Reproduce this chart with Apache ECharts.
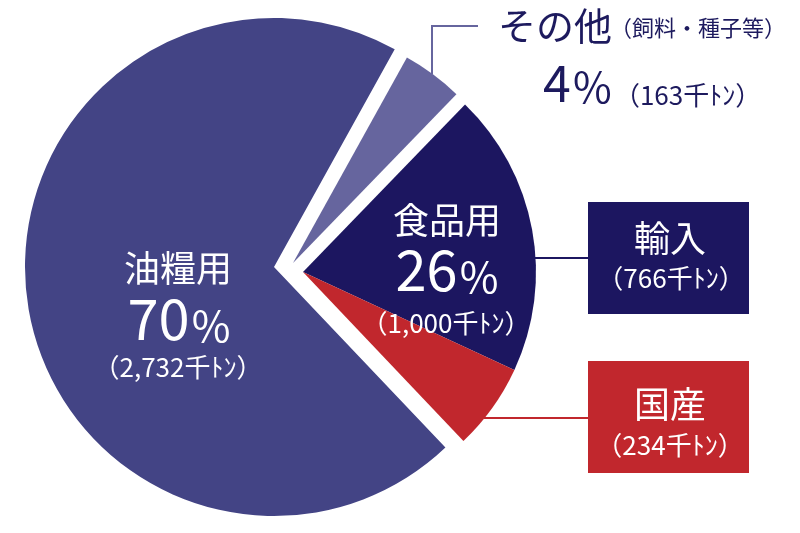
<!DOCTYPE html>
<html><head><meta charset="utf-8">
<script src="https://cdn.jsdelivr.net/npm/echarts@6/dist/echarts.min.js"></script>
<style>html,body{margin:0;padding:0;background:#fff}#c{width:800px;height:533px}</style>
</head><body><div id="c"></div>
<script>
// ---- data ----
const names = ['その他', '輸入', '国産', '油糧用'];
const values = [163, 766, 234, 2732];   // 千トン
const groupNames = ['油糧用', '食品用', 'その他'];
const groupValues = [2732, 1000, 163];
const groupPct = [70, 26, 4];
const otherNote = '（飼料・種子等）';
const unit = '千ﾄﾝ';
const colors = ['#66659e', '#1c1660', '#c1272d', '#434485'];

const fmt = v => v.toLocaleString('en-US');
const CJK = "'Noto Sans CJK JP'";
const NUM = "'Liberation Sans Narrow','Noto Sans CJK JP'";

function makeSeries(center, radius, showIdx) {
  return {
    type: 'pie', center: center, radius: radius, startAngle: 61, clockwise: true,
    animation: false, silent: true, label: {show: false}, labelLine: {show: false},
    emphasis: {disabled: true},
    data: names.map((n, i) => ({
      name: n, value: values[i],
      itemStyle: {color: showIdx.includes(i) ? colors[i] : 'rgba(0,0,0,0)'}
    }))
  };
}

function txt(x, y, text, font, fill, align) {
  return {type: 'text', x: x, y: y, z: 10, silent: true,
    style: {text: text, font: font, fill: fill, align: align || 'center', verticalAlign: 'middle'}};
}
function pctText(x, y, num, numSize, pSize, fill) {
  return {type: 'text', x: x, y: y, z: 10, silent: true,
    style: {text: '{n|' + num + '}{s| }{p|%}', align: 'center', verticalAlign: 'middle', fill: fill,
      rich: {
        n: {font: numSize + 'px ' + NUM, fill: fill, verticalAlign: 'bottom', lineHeight: numSize},
        s: {font: '10px ' + NUM, verticalAlign: 'bottom', lineHeight: numSize},
        p: {font: pSize + 'px ' + NUM, fill: fill, verticalAlign: 'bottom', lineHeight: numSize}
      }}};
}

const navy = '#1c1660', red = '#c1272d', lilac = '#66659e', W = '#ffffff', textNavy = '#1d1a5e';

const option = {
  backgroundColor: '#ffffff',
  series: [
    makeSeries([274, 267], 249, [3]),
    makeSeries([293, 263], 235, [0]),
    makeSeries([303, 272], 233, [1, 2])
  ],
  graphic: [
    // 油糧用
    txt(178, 268, groupNames[0], '36px ' + CJK, W),
    pctText(179, 319, groupPct[0], 56, 42, W),
    txt(178, 367, '（' + fmt(groupValues[0]) + unit + '）', '26px ' + NUM, W),
    // 食品用
    txt(447, 220, groupNames[1], '36px ' + CJK, W),
    pctText(447, 270, groupPct[1], 56, 42, W),
    txt(446, 323, '（' + fmt(groupValues[1]) + unit + '）', '26px ' + NUM, W),
    // その他 callout
    {type: 'polyline', silent: true, z: 5, shape: {points: [[432, 74], [432, 26], [478, 26]]},
      style: {stroke: lilac, lineWidth: 2, fill: null}},
    txt(498, 26, groupNames[2], '38px ' + CJK, textNavy, 'left'),
    txt(610, 28, otherNote, '22px ' + CJK, textNavy, 'left'),
    {type: 'text', x: 543, y: 83, z: 10, silent: true,
      style: {text: '{n|' + groupPct[2] + '}{s| }{p|%}{s| }{u|（' + fmt(groupValues[2]) + unit + '）}',
        align: 'left', verticalAlign: 'middle', fill: textNavy,
        rich: {
          n: {font: '50px ' + NUM, fill: textNavy, verticalAlign: 'bottom', lineHeight: 50},
          s: {font: '10px ' + NUM, verticalAlign: 'bottom', lineHeight: 50},
          p: {font: '42px ' + NUM, fill: textNavy, verticalAlign: 'bottom', lineHeight: 50},
          u: {font: '26px ' + NUM, fill: textNavy, verticalAlign: 'bottom', lineHeight: 44}
        }}},
    // 輸入 callout
    {type: 'line', silent: true, z: 5, shape: {x1: 533, y1: 258, x2: 588, y2: 258}, style: {stroke: navy, lineWidth: 2}},
    {type: 'rect', silent: true, z: 5, shape: {x: 588, y: 202, width: 161, height: 112}, style: {fill: navy}},
    txt(670, 238, names[1], '36px ' + CJK, W),
    txt(671, 278, '（' + fmt(values[1]) + unit + '）', '26px ' + NUM, W),
    // 国産 callout
    {type: 'line', silent: true, z: 5, shape: {x1: 484, y1: 418, x2: 588, y2: 418}, style: {stroke: red, lineWidth: 2}},
    {type: 'rect', silent: true, z: 5, shape: {x: 588, y: 361, width: 161, height: 112}, style: {fill: red}},
    txt(670, 404, names[2], '36px ' + CJK, W),
    txt(670, 445, '（' + fmt(values[2]) + unit + '）', '26px ' + NUM, W)
  ]
};
const chart = echarts.init(document.getElementById('c'), null, {renderer: 'canvas'});
chart.setOption(option);
</script></body></html>
